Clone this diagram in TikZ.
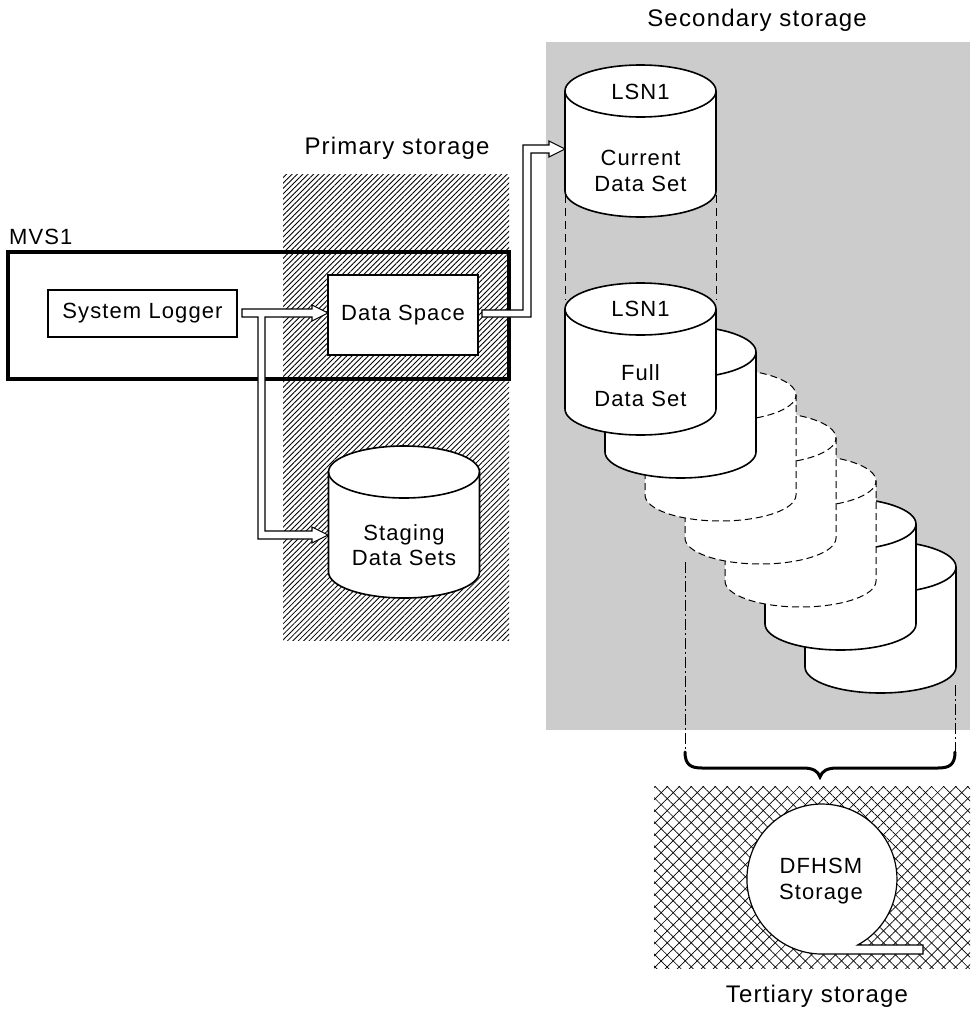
\documentclass[tikz,border=0pt]{standalone}
\usepackage{fontspec}
\setmainfont{Liberation Sans}[LetterSpace=5]
\usetikzlibrary{patterns.meta}
\definecolor{secgray}{RGB}{204,204,204}
\newcommand\mycyl[3]{%
  \filldraw[fill=white,#3] (#1,#2) -- (#1,#2+100) arc[start angle=180,end angle=0,x radius=75.5,y radius=26] -- (#1+151,#2) arc[start angle=360,end angle=180,x radius=75.5,y radius=26] -- cycle;
  \draw[#3] (#1,#2) arc[start angle=180,end angle=0,x radius=75.5,y radius=26];}
\tikzset{
  txt/.style={font=\fontsize{22}{25.5}\selectfont, align=center, inner sep=0pt},
  lbl/.style={font=\fontsize{24}{28}\selectfont, anchor=base, inner sep=0pt},
  boxnode/.style={draw, fill=white, line width=1.3pt, txt},
  solidcyl/.style={line width=1.6pt},
  dashcyl/.style={line width=1pt, dash pattern=on 7pt off 4pt},
  hollow/.style={draw, fill=white, line width=1.1pt, line join=miter},
  dashdot/.style={line width=1pt, dash pattern=on 11pt off 3pt on 2pt off 3pt},
}
\begin{document}
\begin{tikzpicture}[x=1pt,y=-1pt]
\useasboundingbox (0,0) rectangle (970,1009);
% secondary storage area
\fill[secgray] (546,42) rectangle (970,730);
\node[lbl] (seclbl) at (757,27) {Secondary storage};
% primary storage area
\fill[pattern={Lines[angle=45,distance=3.8pt,line width=0.85pt]}] (283,174) rectangle (509,640);
\node[lbl] (primlbl) at (397,154) {Primary storage};
% MVS1
\node[lbl, anchor=base west, font=\fontsize{22}{25}\selectfont] (mvslbl) at (9,244) {MVS1};
\draw[line width=4pt] (8,252) rectangle (509,379);
\node[boxnode, minimum width=189pt, minimum height=47pt] (logger) at (142.5,313.5) {System Logger};
\node[boxnode, minimum width=150pt, minimum height=80pt] (dspace) at (403,315) {Data Space};
% staging data sets
\mycyl{328.5}{472}{solidcyl}
\node[txt] (staging) at (404,545) {Staging\\Data Sets};
% current data set
\draw[line width=1pt, dash pattern=on 8pt off 5pt] (565,195) -- (565,300);
\draw[line width=1pt, dash pattern=on 8pt off 5pt] (716,195) -- (716,300);
\mycyl{565}{91}{solidcyl}
\node[txt] (lsnA) at (640.5,91.5) {LSN1};
\node[txt] (current) at (640.5,171) {Current\\Data Set};
% dash-dot guide lines
\draw[dashdot] (685,562) -- (685,752);
\draw[dashdot] (955,685) -- (955,752);
% stack of full data sets (back to front)
\mycyl{805}{567}{solidcyl}
\mycyl{765}{524}{solidcyl}
\mycyl{725}{481}{dashcyl}
\mycyl{685}{438}{dashcyl}
\mycyl{645}{395}{dashcyl}
\mycyl{605}{352}{solidcyl}
\mycyl{565}{309}{solidcyl}
\node[txt] (lsnB) at (640.5,308.5) {LSN1};
\node[txt] (full) at (640.5,385.5) {Full\\Data Set};
% hollow arrows
\path[hollow] (242,309) -- (312,309) -- (312,305) -- (328,313) -- (312,321) -- (312,317) -- (265,317) -- (265,531) -- (312,531) -- (312,527) -- (328,535) -- (312,543) -- (312,539) -- (258,539) -- (258,317) -- (242,317) -- cycle;
\path[hollow] (482,310) -- (523,310) -- (523,145) -- (549,145) -- (549,141) -- (565,149) -- (549,157) -- (549,153) -- (531,153) -- (531,317) -- (482,317) -- cycle;
% brace
\draw[line width=3pt, line cap=round] (685,752) .. controls (685,765) and (691,768) .. (702,768) -- (803,768) .. controls (813,768) and (818,771) .. (820,777) .. controls (822,771) and (827,768) .. (837,768) -- (938,768) .. controls (949,768) and (955,765) .. (955,752);
% tertiary storage
\fill[pattern={Lines[angle=45,distance=8.5pt,line width=0.7pt]}] (654,786) rectangle (970,968);
\fill[pattern={Lines[angle=-45,distance=8.5pt,line width=0.7pt]}] (654,786) rectangle (970,968);
\filldraw[fill=white, line width=1.2pt] (857.6,945) arc[start angle=61.6, end angle=-270, radius=75] -- (923,954) -- (923,945) -- cycle;
\node[txt] (dfhsm) at (821,881) {DFHSM\\Storage};
\node[lbl] (terlbl) at (817,1002) {Tertiary storage};
\end{tikzpicture}
\end{document}
